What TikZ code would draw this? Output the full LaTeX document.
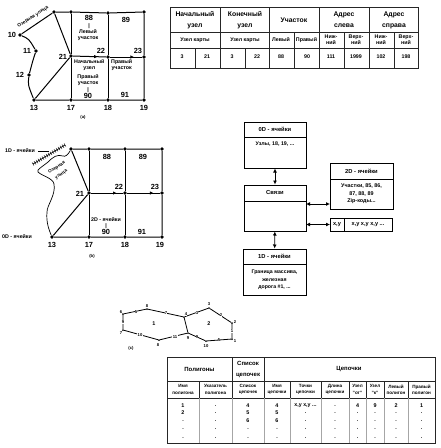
\documentclass[tikz,border=0pt]{standalone}
\usepackage{fontspec}
\setmainfont{Liberation Sans}
\usetikzlibrary{arrows.meta,decorations.markings,calc}
\newcounter{cl}
\newcommand{\cell}[3][]{\stepcounter{cl}\node[txt,#1] (c\thecl) at (#2) {#3};}
\tikzset{
  x=1pt,y=-1pt,
  txt/.style={inner sep=0pt,align=center,font=\fontsize{5.3}{6.3}\selectfont\bfseries},
  big/.style={font=\fontsize{6.8}{11}\selectfont\bfseries},
  num/.style={font=\fontsize{7.4}{8}\selectfont\bfseries},
  tiny/.style={font=\fontsize{4.2}{4.6}\selectfont\bfseries},
  dot/.style={circle,fill=black,inner sep=0pt,minimum size=3.8pt},
  sdot/.style={circle,fill=black,inner sep=0pt,minimum size=2pt},
  edge/.style={line width=1pt},
  rule/.style={line width=1pt,black!85},
  faint/.style={line width=.3pt,black!35},
  box/.style={draw,line width=1pt,inner sep=0pt,minimum width=62pt},
  dbl/.style={line width=.9pt,{Latex[length=4pt,width=4pt]}-{Latex[length=4pt,width=4pt]}},
  tick/.style={postaction={decorate},decoration={markings,mark=at position #1 with {\arrow{Latex[length=3.5pt,width=3.5pt]}}}},
}
\begin{document}
\begin{tikzpicture}
\useasboundingbox (0,0) rectangle (440,448);
% ---------- panel a
\node[dot] (a10) at (20,35) {};
\node[dot] (at) at (54,12) {};
\node[dot] (at17) at (71,12) {};
\node[dot] (at18) at (108,13) {};
\node[dot] (at19) at (144,12) {};
\node[dot] (a11) at (36,51) {};
\node[dot] (a12) at (29,75) {};
\node[dot] (a13) at (34,100) {};
\node[dot] (a21) at (71,56) {};
\node[dot] (a22) at (108,57) {};
\node[dot] (a23) at (144,57) {};
\node[dot] (a17) at (71,100) {};
\node[dot] (a18) at (108,100) {};
\node[dot] (a19) at (144,100) {};
\draw[edge] (a10) -- (at) -- (at17) -- (at18) -- (at19) -- (a23) -- (a19) -- (a18) -- (a17) -- (a13) -- (a21) -- (at);
\draw[edge] (at17) -- (a21) -- (a17);
\draw[edge] (at18) -- (a22) -- (a18);
\draw[edge,tick=.75] (a21) -- (a22);
\draw[edge,tick=.75] (a22) -- (a23);
\draw[edge] (a10) .. controls (29,39) .. (a11) .. controls (33,60) .. (a12) .. controls (28,85) .. (a13);
\cell[num]{12,35}{10}\cell[num]{27,51}{11}\cell[num]{20,75}{12}\cell[num]{34,108}{13}
\cell[num]{71,108}{17}\cell[num]{108,108}{18}\cell[num]{144,108}{19}\cell[num]{63,57}{21}
\cell[num]{101,51}{22}\cell[num]{138,51}{23}\cell[num]{89,18}{88}\cell[num]{126,20}{89}
\cell[num]{88,96}{90}\cell[num]{125,95}{91}
\cell[rotate=33,font=\fontsize{4.8}{6}\selectfont\bfseries]{33,17}{Озерная улица}
\cell{89,26}{|}\cell{88,35}{Левый\\участок}
\cell[anchor=west]{74,65}{Начальный\\узел}
\cell{88,80}{Правый\\участок}\cell{88,90}{|}
\cell[anchor=west]{111,65}{Правый\\участок}
\cell[tiny]{83,117}{(а)}
% ---------- table a
\draw[rule] (170,7) rectangle (418,68);
\draw[rule] (170,32) -- (418,32) (170,48) -- (418,48);
\foreach \x in {220,269,319,369} \draw[rule] (\x,7) -- (\x,68);
\foreach \x in {195,245} \draw[rule] (\x,48) -- (\x,68);
\foreach \x in {294,344,394} \draw[rule] (\x,32) -- (\x,68);
\cell[big]{195,20}{Начальный\\узел}\cell[big]{245,20}{Конечный\\узел}\cell[big]{294,20}{Участок}
\cell[big]{344,20}{Адрес\\слева}\cell[big]{394,20}{Адрес\\справа}
\cell{195,40}{Узел карты}\cell{245,40}{Узел карты}\cell{281,40}{Левый}\cell{306.5,40}{Правый}
\cell{331,40}{Ниж-\\ний}\cell{356,40}{Верх-\\ний}\cell{381,40}{Ниж-\\ний}\cell{406,40}{Верх-\\ний}
\foreach \x/\t in {182/3,207/21,232/3,257/22,281/88,307/90,331/111,356/1999,381/102,406/198}
  {\cell{\x,57}{\t}}
% ---------- panel b
\node[dot] (bt) at (71,149) {};
\node[dot] (bt17) at (89,149) {};
\node[dot] (bt18) at (125,149) {};
\node[dot] (bt19) at (162,149) {};
\node[dot] (b21) at (89,193) {};
\node[dot] (b22) at (125,193) {};
\node[dot] (b23) at (162,193) {};
\node[dot] (b13) at (52,237) {};
\node[dot] (b17) at (89,237) {};
\node[dot] (b18) at (125,237) {};
\node[dot] (b19) at (162,237) {};
\draw[edge] (bt) -- (bt17) -- (bt18) -- (bt19) -- (b23) -- (b19) -- (b18) -- (b17) -- (b13) -- (b21) -- (bt);
\draw[edge] (bt17) -- (b21) -- (b17);
\draw[edge] (bt18) -- (b22) -- (b18);
\draw[edge,tick=.8] (b21) -- (b22);
\draw[edge,tick=.8] (b22) -- (b23);
\draw[line width=.7pt] (bt) .. controls (68,155) and (65,157) .. (63,156) .. controls (57,154) and (53,157) .. (48,162)
  .. controls (42,167) and (36,170) .. (38,172) .. controls (42,176) and (53,178) .. (54,184)
  .. controls (56,195) and (47,205) .. (47,212) .. controls (46,222) and (49,230) .. (b13);
\coordinate (h1) at (33,164);\coordinate (h2) at (65,145);
\draw[line width=.7pt] (h1) -- (h2);
\foreach \p in {0,.0625,...,1.01}
  \draw[line width=.4pt] ($(h1)!\p!(h2)$) ++(-1,-1.7) -- ++(2,3.4);
\cell[rotate=33,font=\fontsize{4.6}{8}\selectfont\bfseries]{59,171}{Озерная\\улица}
\cell{20,151}{1D - ячейки}\cell{17,237}{0D - ячейки}
\coordinate (l1) at (38,151);\coordinate (l2) at (49,151);
\draw[line width=.4pt] (l1) -- (l2);
\cell[num]{52,245}{13}\cell[num]{89,245}{17}\cell[num]{125,245}{18}\cell[num]{160,245}{19}
\cell[num]{80,194}{21}\cell[num]{119,187}{22}\cell[num]{155,187}{23}
\cell[num]{107,157}{88}\cell[num]{143,157}{89}\cell[num]{106,232}{90}\cell[num]{142,232}{91}
\cell{106,220}{2D - ячейки}\cell{106,226}{|}
\cell[tiny]{92,256}{(b)}
% ---------- schema boxes
\node[box,minimum height=46pt] (d0) at (275,145) {};
\draw[line width=1pt] (244,137) -- (306,137);
\cell[font=\fontsize{5.8}{7}\selectfont\bfseries]{275,129}{0D - ячейки}\cell{275,144}{Узлы, 18, 19, ...}
\node[box,minimum height=46pt] (sv) at (275,208) {};
\draw[line width=1pt] (244,201) -- (306,201);
\cell[font=\fontsize{5.8}{6}\selectfont\bfseries]{275,192.5}{Связи}
\node[box,minimum width=63pt,minimum height=46pt] (d2) at (361.5,186) {};
\draw[line width=1pt] (330,179) -- (393,179);
\cell[font=\fontsize{5.8}{7}\selectfont\bfseries]{361.5,171}{2D - ячейки}
\cell[font=\fontsize{5.4}{7.6}\selectfont\bfseries]{361.5,194}{Участки, 85, 86,\\87, 88, 89\\Zip-коды...}
\node[box,minimum height=13pt,minimum width=62pt] (xy) at (361,224.5) {};
\draw[line width=1pt] (344,218) -- (344,231);
\cell[font=\fontsize{5.6}{6}\selectfont\bfseries]{337,224.5}{x,y}
\cell[font=\fontsize{5.6}{6}\selectfont\bfseries]{368,224.5}{x,y x,y x,y ...}
\node[box,minimum width=63pt,minimum height=46pt] (d1) at (274.5,272) {};
\draw[line width=1pt] (243,264) -- (306,264);
\cell[font=\fontsize{5.8}{7}\selectfont\bfseries]{274.5,256.5}{1D - ячейки}
\cell[font=\fontsize{5.2}{7.6}\selectfont\bfseries]{274.5,280}{Граница массива,\\железная\\дорога \#1, ...}
\draw[dbl] (d0) -- (sv);
\draw[dbl] (sv) -- (d1);
\coordinate (s2) at (306,204);\coordinate (e2) at (330,204);
\coordinate (s3) at (306,224.5);\coordinate (e3) at (330,224.5);
\draw[dbl] (s2) -- (e2);
\draw[dbl] (s3) -- (e3);
% ---------- panel c
\foreach \n/\x/\y in {n6/123/314,n8/147/309,n4/184/317,n3/209/308,n2/232/323,n1/232/339,n10/206/341,n9/188/333,n80/159/340,n7/123/330}
  {\node[sdot] (\n) at (\x,\y) {};}
\draw[line width=.8pt] (n6) -- (n8) -- (n4) -- (n3) -- (n2) -- (n1) -- (n10) -- (n9) -- (n80) -- (n7) -- (n6);
\draw[line width=.8pt] (n4) -- (n9);
\foreach \x/\y/\t in {121/312/6,147/306/8,186/314/4,209/304/3,235/322/2,235/341/1,206/346/10,188/338/9,158/345/8,121/333/7,
  136/312/5,166/313/7,197/313/3,221/315/2,232/331/1,219/340/5,197/337/9,175/337/11,140/335/10,123/322/9}
  {\cell[tiny,fill=white,inner sep=.3pt]{\x,\y}{\t}}
\cell[font=\fontsize{5.4}{6}\selectfont\bfseries]{154,324}{1}\cell[font=\fontsize{5.4}{6}\selectfont\bfseries]{209,324}{2}
\cell[tiny]{131,348}{(c)}
% ---------- table c
\draw[rule] (167,357) rectangle (435,443);
\draw[rule] (167,381) -- (435,381) (167,398) -- (435,398);
\foreach \x in {232,264} \draw[rule] (\x,357) -- (\x,398);
\foreach \x in {199,290,321,349,366,384,408} \draw[rule] (\x,381) -- (\x,398);
\foreach \x in {199,232,264,290,321,349,366,384,408} \draw[faint] (\x,398) -- (\x,443);
\cell[font=\fontsize{6}{7}\selectfont\bfseries]{199.5,369}{Полигоны}
\cell[font=\fontsize{6}{11}\selectfont\bfseries]{248,369}{Список\\цепочек}
\cell[font=\fontsize{6}{7}\selectfont\bfseries]{349,369}{Цепочки}
\foreach \x/\t in {183/Имя\\полигона,215.5/Указатель\\полигона,248/Список\\цепочек,277/Имя\\цепочки,305.5/Точки\\цепочки,335/Длина\\цепочки,357.5/Узел\\"от",375/Узел\\"к",396/Левый\\полигон,421.5/Правый\\полигон}
  {\cell[font=\fontsize{4.6}{6.2}\selectfont\bfseries]{\x,389.5}{\t}}
\foreach \x in {183,215.5,248,277,335,357.5,375,396,421.5}
  \foreach \y in {406,413,421,429,438} {\cell{\x,\y}{.}}
\foreach \x/\y/\t in {183/406/1,183/413/2,248/406/4,248/413/5,248/421/6,277/406/4,277/413/5,277/421/6,357.5/406/4,375/406/9,396/406/2,421.5/406/1}
  {\cell[fill=white,inner sep=.5pt,font=\fontsize{5.4}{6}\selectfont\bfseries]{\x,\y}{\t}}
\cell{305.5,406}{x,y x,y ...}
\foreach \y in {413,421,429,438} {\cell{305.5,\y}{.}}
\end{tikzpicture}
\end{document}
